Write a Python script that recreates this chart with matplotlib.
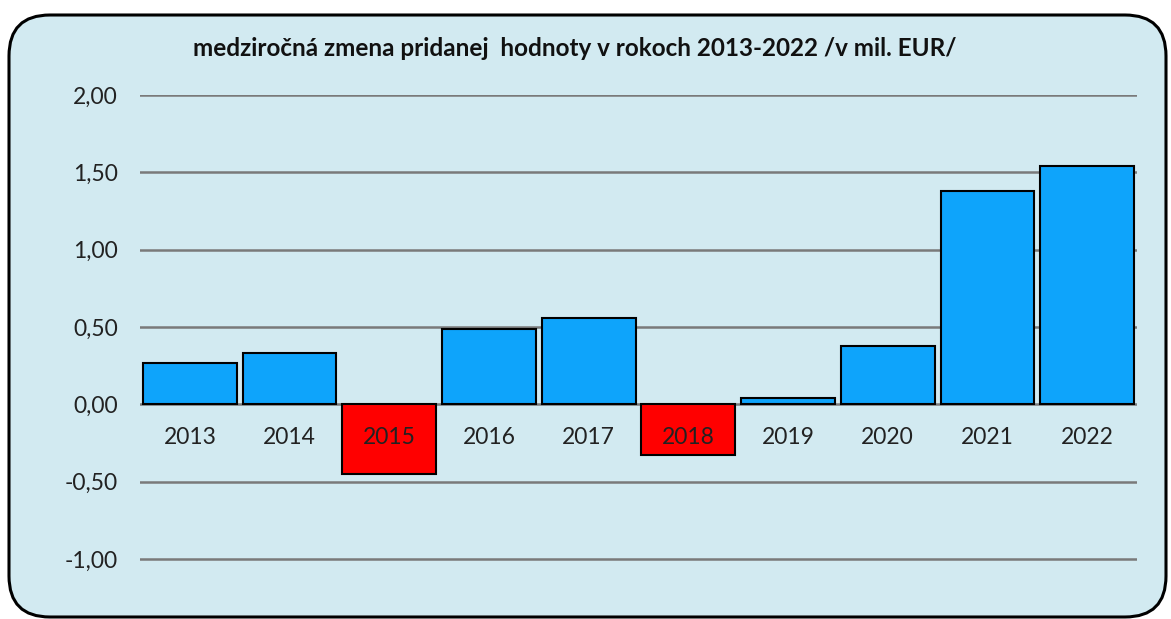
import matplotlib.pyplot as plt
from matplotlib.patches import FancyBboxPatch
from matplotlib.ticker import FuncFormatter

# data
years = ['2013', '2014', '2015', '2016', '2017', '2018', '2019', '2020', '2021', '2022']
change = [0.27, 0.33, -0.45, 0.49, 0.56, -0.33, 0.04, 0.38, 1.38, 1.54]
yticks = [-1.0, -0.5, 0.0, 0.5, 1.0, 1.5, 2.0]

plt.rcParams['font.family'] = ['Lato', 'DejaVu Sans']

fig = plt.figure(figsize=(11.71, 6.19), dpi=100)
fig.patch.set_facecolor('white')

# rounded chart frame with light blue fill
frame = FancyBboxPatch((9 / 1171, 2 / 619), 1157 / 1171, 602 / 619,
                       boxstyle='round,pad=0,rounding_size=0.035',
                       transform=fig.transFigure, facecolor='#d2eaf1',
                       edgecolor='black', linewidth=2.2, mutation_aspect=1171 / 619,
                       zorder=-5)
fig.add_artist(frame)

ax = fig.add_axes([140 / 1171, 1 - 597.7 / 619, 997 / 1171, (597.7 - 95) / 619])
ax.set_zorder(2)
ax.patch.set_alpha(0)

colors = ['#ff0000' if v < 0 else '#0ea4fb' for v in change]
x = range(len(years))
ax.bar(x, change, width=0.94, color=colors, edgecolor='black', linewidth=1.5, zorder=3)

for i, y in enumerate(years):
    ax.text(i, -0.215, y, ha='center', va='center', fontsize=16.5, color='#222222', zorder=4)

ax.set_xlim(-0.5, len(years) - 0.5)
ax.set_ylim(-1.25, 2.0)
ax.set_yticks(yticks)
ax.yaxis.set_major_formatter(FuncFormatter(lambda v, p: f'{v:.2f}'.replace('.', ',')))
ax.tick_params(axis='y', length=0, pad=16, labelsize=16.5, labelcolor='#222222')
ax.set_xticks([])
ax.grid(axis='y', color='#7a7a7a', linewidth=1.8, zorder=1)
for s in ax.spines.values():
    s.set_visible(False)

fig.text(575 / 1171, 1 - 48 / 619,
         'medziročná zmena pridanej  hodnoty v rokoch 2013-2022 /v mil. EUR/',
         ha='center', va='center', fontsize=17.5, fontweight='bold', color='#111111',
         zorder=3)

fig.savefig('out.png', dpi=100)
